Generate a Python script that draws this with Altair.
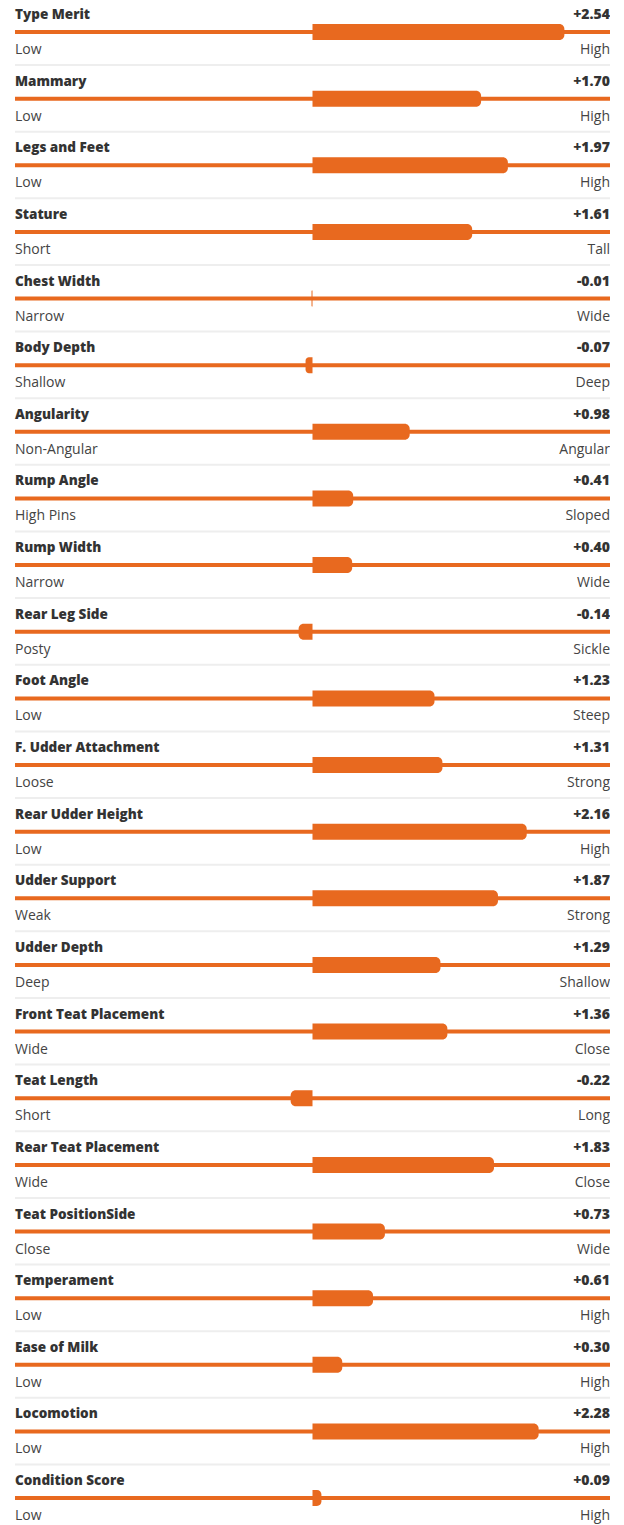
import altair as alt
import pandas as pd

traits = ["Type Merit", "Mammary", "Legs and Feet", "Stature", "Chest Width", "Body Depth",
          "Angularity", "Rump Angle", "Rump Width", "Rear Leg Side", "Foot Angle",
          "F. Udder Attachment", "Rear Udder Height", "Udder Support", "Udder Depth",
          "Front Teat Placement", "Teat Length", "Rear Teat Placement", "Teat PositionSide",
          "Temperament", "Ease of Milk", "Locomotion", "Condition Score"]
values = [2.54, 1.70, 1.97, 1.61, -0.01, -0.07, 0.98, 0.41, 0.40, -0.14, 1.23, 1.31,
          2.16, 1.87, 1.29, 1.36, -0.22, 1.83, 0.73, 0.61, 0.30, 2.28, 0.09]
low_labels = ["Low", "Low", "Low", "Short", "Narrow", "Shallow", "Non-Angular", "High Pins",
              "Narrow", "Posty", "Low", "Loose", "Low", "Weak", "Deep", "Wide", "Short",
              "Wide", "Close", "Low", "Low", "Low", "Low"]
high_labels = ["High", "High", "High", "Tall", "Wide", "Deep", "Angular", "Sloped", "Wide",
               "Sickle", "Steep", "Strong", "High", "Strong", "Shallow", "Close", "Long",
               "Close", "Wide", "High", "High", "High", "High"]

n = len(traits)
df = pd.DataFrame({
    "idx": list(range(n)),
    "trait": traits,
    "value": values,
    "label": [f"{v:+.2f}" for v in values],
    "low": low_labels,
    "high": high_labels,
    "zero": [0.0] * n,
})

W = 595
TOP = 4
H = 1525 - 8 - TOP
PITCH = 66.64
ORANGE = "#E8691F"
xscale = alt.Scale(domain=[-3, 3], nice=False, zero=False)
yscale = alt.Scale(domain=[0, n - 1], range=[0, (n - 1) * PITCH], nice=False, zero=False)
Y = alt.Y("idx:Q", scale=yscale, axis=None)

base = alt.Chart(df)

line = base.mark_rule(color=ORANGE, strokeWidth=4, yOffset=24 - TOP).encode(
    x=alt.value(0), x2=alt.value(W), y=Y)
sep = base.transform_filter(f"datum.idx < {n - 1}").mark_rule(
    color="#EEEEEE", strokeWidth=2, yOffset=57 - TOP).encode(
    x=alt.value(0), x2=alt.value(W), y=Y)

bar_pos = base.transform_filter("datum.value >= 0").mark_bar(
    color=ORANGE, cornerRadiusTopRight=5, cornerRadiusBottomRight=5,
    yOffset=16 - TOP, y2Offset=32 - TOP).encode(
    x=alt.X("zero:Q", scale=xscale, axis=None),
    x2="value:Q",
    y=Y, y2="idx:Q")
bar_neg = base.transform_filter("datum.value < 0").mark_bar(
    color=ORANGE, cornerRadiusTopLeft=5, cornerRadiusBottomLeft=5,
    yOffset=16 - TOP, y2Offset=32 - TOP).encode(
    x=alt.X("value:Q", scale=xscale, axis=None),
    x2="zero:Q",
    y=Y, y2="idx:Q")

title = base.mark_text(align="left", baseline="alphabetic", font="Open Sans",
                       fontWeight=800, fontSize=13.5, color="#333333", dy=11 - TOP).encode(
    x=alt.value(0), y=Y, text="trait:N")
val = base.mark_text(align="right", baseline="alphabetic", font="Open Sans",
                     fontWeight=800, fontSize=14, color="#333333", dy=11 - TOP).encode(
    x=alt.value(W), y=Y, text="label:N")
lowt = base.mark_text(align="left", baseline="alphabetic", font="Open Sans",
                      fontSize=14, color="#444444", dy=46 - TOP).encode(
    x=alt.value(0), y=Y, text="low:N")
hight = base.mark_text(align="right", baseline="alphabetic", font="Open Sans",
                       fontSize=14, color="#444444", dy=46 - TOP).encode(
    x=alt.value(W), y=Y, text="high:N")

chart = alt.layer(line, sep, bar_pos, bar_neg, title, val, lowt, hight).properties(
    width=W, height=H,
    autosize=alt.AutoSizeParams(type="none"),
    padding={"left": 7, "top": TOP, "right": 0, "bottom": 0},
).configure_view(strokeWidth=0)

chart.save("out.html", embed_options={"renderer": "svg", "actions": False})
